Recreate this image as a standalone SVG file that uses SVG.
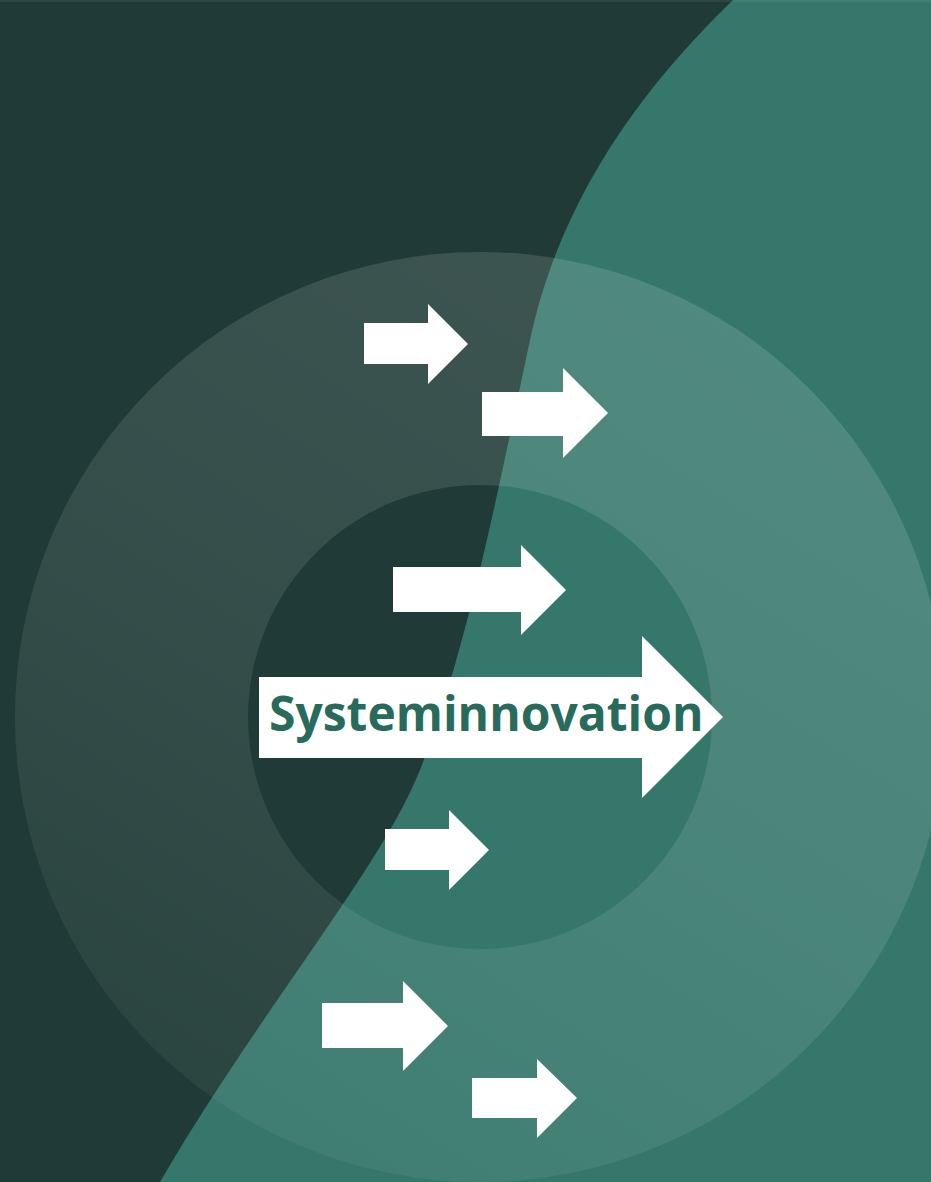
<svg xmlns="http://www.w3.org/2000/svg" width="931" height="1182" viewBox="0 0 931 1182">
  <defs>
    <style>
      .arrow { fill: #ffffff; }
      .label { font-family: "Open Sans", "Noto Sans", "Liberation Sans", sans-serif; font-weight: 700; fill: #286b5d; }
    </style>
    <linearGradient id="ringGrad" gradientUnits="userSpaceOnUse" x1="720" y1="260" x2="160" y2="1150">
      <stop offset="0" stop-color="#ffffff" stop-opacity="0.135"/>
      <stop offset="0.5" stop-color="#ffffff" stop-opacity="0.10"/>
      <stop offset="1" stop-color="#ffffff" stop-opacity="0.04"/>
    </linearGradient>
  </defs>

  <g id="background">
    <rect x="0" y="0" width="931" height="1182" fill="#203b37"/>
    <path d="M733,0 C640,90 560,200 530,340 C500,480 470,640 420,770 C380,870 260,1010 160,1182 L931,1182 L931,0 Z" fill="#36776b"/>
    <rect x="0" y="0" width="931" height="2" fill="#ffffff" fill-opacity="0.06"/>
  </g>

  <g id="ring">
    <path fill="url(#ringGrad)" fill-rule="evenodd" d="M15,717 a465,465 0 1,0 930,0 a465,465 0 1,0 -930,0 Z M248,717 a232,232 0 1,0 464,0 a232,232 0 1,0 -464,0 Z"/>
  </g>

  <g id="connectors">
    <g id="arrow1"><polygon class="arrow" points="364,323 428,323 428,304 468,344 428,384 428,364 364,364"/></g>
    <g id="arrow2"><polygon class="arrow" points="482,392 563,392 563,368 608,413 563,458 563,436 482,436"/></g>
    <g id="arrow3"><polygon class="arrow" points="393,567 521,567 521,545 566,590 521,635 521,612 393,612"/></g>
    <g id="arrow4"><polygon class="arrow" points="385,829 449,829 449,810 489,850 449,890 449,870 385,870"/></g>
    <g id="arrow5"><polygon class="arrow" points="322,1003 403,1003 403,981 448,1026 403,1071 403,1048 322,1048"/></g>
    <g id="arrow6"><polygon class="arrow" points="472,1078 537,1078 537,1059 577,1098 537,1138 537,1118 472,1118"/></g>
  </g>

  <g id="main-node">
    <polygon class="arrow" points="259,677 642,677 642,636 723,717 642,798 642,758 259,758"/>
    <text class="label" x="269" y="731" font-size="48">Systeminnovation</text>
  </g>
</svg>
